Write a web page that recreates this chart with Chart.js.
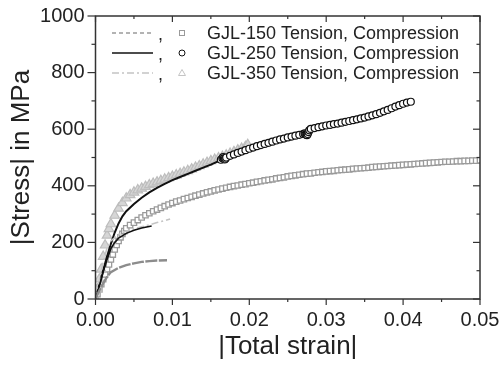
<!DOCTYPE html>
<html>
<head>
<meta charset="utf-8">
<script src="https://cdn.jsdelivr.net/npm/chart.js@4.4.1/dist/chart.umd.min.js"></script>
<style>
  html, body { margin: 0; padding: 0; background: #fff; }
  #wrap { width: 504px; height: 365px; }
</style>
</head>
<body>
<div id="wrap"><canvas id="stress-chart"></canvas></div>
<script>
"use strict";

// Series names as in the legend
const seriesNames = ["GJL-150 Tension, Compression", "GJL-250 Tension, Compression", "GJL-350 Tension, Compression"];

// Axis ticks
const strainTicks = [0, 0.01, 0.02, 0.03, 0.04, 0.05];
const stressTicks = [0, 200, 400, 600, 800, 1000];

// GJL-150 tension (dashed grey line)
const strain150t = [0, 0.0005, 0.001, 0.0015, 0.002, 0.003, 0.004, 0.005, 0.006, 0.007, 0.008, 0.0093];
const stress150t = [0, 30, 56, 78, 95, 110, 120, 126, 131, 134, 136, 137];

// GJL-150 compression (grey squares)
const strain150c = [0, 0.00025, 0.0005, 0.00075, 0.001, 0.00125, 0.0015, 0.00175, 0.002, 0.00225, 0.0025, 0.00275, 0.003, 0.00325, 0.0035, 0.00375, 0.004,
  0.0045, 0.005, 0.0055, 0.006, 0.0065, 0.007, 0.0075, 0.008, 0.0085, 0.009, 0.0095, 0.01,
  0.0105, 0.011, 0.0115, 0.012, 0.0125, 0.013, 0.0135, 0.014, 0.0145, 0.015,
  0.0155, 0.016, 0.0165, 0.017, 0.0175, 0.018, 0.0185, 0.019, 0.0195, 0.02,
  0.0205, 0.021, 0.0215, 0.022, 0.0225, 0.023, 0.0235, 0.024, 0.0245, 0.025,
  0.0255, 0.026, 0.0265, 0.027, 0.0275, 0.028, 0.0285, 0.029, 0.0295, 0.03,
  0.0305, 0.031, 0.0315, 0.032, 0.0325, 0.033, 0.0335, 0.034, 0.0345, 0.035,
  0.0355, 0.036, 0.0365, 0.037, 0.0375, 0.038, 0.0385, 0.039, 0.0395, 0.04,
  0.0405, 0.041, 0.0415, 0.042, 0.0425, 0.043, 0.0435, 0.044, 0.0445, 0.045,
  0.0455, 0.046, 0.0465, 0.047, 0.0475, 0.048, 0.0485, 0.049, 0.0495, 0.05];
const stress150c = [0, 17, 35, 52, 70, 87, 105, 122, 140, 157, 175, 191, 205, 218, 230, 240, 250,
  261, 270, 279, 288, 296, 303, 310, 316, 322, 328, 334, 339,
  344, 348, 353, 357, 361, 365, 369, 373, 377, 380,
  384, 387, 390, 393, 396, 399, 401, 404, 406, 409,
  411, 414, 416, 419, 421, 423, 426, 428, 430, 433,
  435, 437, 439, 441, 443, 444, 446, 448, 449, 451,
  452, 453, 455, 456, 457, 458, 460, 461, 462, 463,
  464, 466, 467, 468, 469, 470, 471, 472, 473, 474,
  475, 476, 477, 478, 479, 480, 481, 482, 483, 484,
  485, 485, 486, 487, 487, 488, 488, 489, 489, 490];

// GJL-250 tension (solid black line)
const strain250t = [0, 0.0005, 0.001, 0.0015, 0.002, 0.0025, 0.003, 0.004, 0.005, 0.006, 0.0073];
const stress250t = [0, 45, 95, 140, 178, 200, 215, 232, 243, 251, 258];

// GJL-250 compression (black circles)
const strain250c = [0, 0.0005, 0.001, 0.0015, 0.002, 0.0025, 0.003, 0.0035, 0.004, 0.005, 0.006, 0.007, 0.008, 0.009, 0.01, 0.011, 0.012, 0.013, 0.014, 0.015, 0.016,
  0.0163, 0.0165, 0.0166, 0.0167, 0.0168, 0.0169, 0.017,
  0.0175, 0.018, 0.0185, 0.019, 0.0195, 0.02, 0.0205, 0.021, 0.0215, 0.022, 0.0225, 0.023, 0.0235, 0.024, 0.0245, 0.025, 0.0255, 0.026, 0.0265, 0.027,
  0.0272, 0.0273, 0.0274, 0.0275, 0.0276, 0.0277, 0.0278, 0.028,
  0.0285, 0.029, 0.0295, 0.03, 0.0305, 0.031, 0.0315, 0.032, 0.0325, 0.033, 0.0335, 0.034, 0.0345, 0.035, 0.0355, 0.036, 0.0365, 0.037, 0.0375, 0.038, 0.0385, 0.039, 0.0395, 0.04, 0.0405, 0.041];
const stress250c = [0, 50, 102, 150, 195, 235, 267, 292, 310, 336, 358, 377, 393, 407, 420, 431, 442, 453, 464, 475, 487,
  492, 497, 501, 497, 493, 496, 500,
  506, 511, 516, 521, 526, 531, 535, 540, 544, 548, 552, 556, 560, 564, 567, 571, 574, 577, 580, 583,
  585, 582, 580, 579, 583, 590, 596, 601,
  604, 607, 610, 613, 615, 618, 620, 623, 626, 629, 632, 635, 638, 641, 645, 649, 653, 658, 663, 668, 674, 680, 685, 690, 694, 697];

// GJL-350 tension (light grey dash-dot line)
const strain350t = [0, 0.0005, 0.001, 0.0015, 0.002, 0.003, 0.004, 0.005, 0.006, 0.007, 0.008, 0.009, 0.0097];
const stress350t = [0, 65, 130, 180, 205, 228, 240, 248, 255, 262, 270, 277, 283];

// GJL-350 compression (light grey triangles)
const strain350c = [0, 0.00025, 0.0005, 0.00075, 0.001, 0.00125, 0.0015, 0.00175, 0.002,
  0.0025, 0.003, 0.0035, 0.004, 0.0045, 0.005, 0.0055, 0.006, 0.0065, 0.007, 0.0075, 0.008, 0.0085, 0.009, 0.0095, 0.01,
  0.0105, 0.011, 0.0115, 0.012, 0.0125, 0.013, 0.0135, 0.014, 0.0145, 0.015, 0.0155, 0.016, 0.0165, 0.017, 0.0175, 0.018, 0.0185, 0.019, 0.0195, 0.0198];
const stress350c = [0, 35, 70, 105, 150, 190, 225, 248, 265,
  295, 320, 340, 356, 368, 377, 385, 391, 397, 403, 408, 413, 418, 423, 428, 433,
  438, 443, 448, 453, 459, 465, 470, 476, 482, 488, 493, 498, 503, 508, 514, 520, 526, 532, 538, 545];

const FONT = "'Liberation Sans', Arial, Helvetica, sans-serif";
const INK = "#222";

function points(xs, ys) {
  return xs.map((x, i) => ({ x: x, y: ys[i] }));
}

// legend samples, one row per grade
const legendRows = [
  { dash: [4, 3], color: "#9a9a9a", marker: "rect", markerColor: "#9a9a9a" },
  { dash: [], color: "#111", marker: "circle", markerColor: "#111" },
  { dash: [7, 3, 2, 3], color: "#c4c4c4", marker: "triangle", markerColor: "#c4c4c4" },
];

const frameAndLegend = {
  id: "frameAndLegend",
  afterDraw(chart) {
    const ctx = chart.ctx;
    const a = chart.chartArea;
    const xs = chart.scales.x;
    const ys = chart.scales.y;
    const seg = (x1, y1, x2, y2) => { ctx.beginPath(); ctx.moveTo(x1, y1); ctx.lineTo(x2, y2); ctx.stroke(); };

    ctx.save();
    ctx.strokeStyle = "#333";
    ctx.lineWidth = 1.5;
    ctx.strokeRect(a.left, a.top, a.right - a.left, a.bottom - a.top);

    // ticks: outward on bottom/left, inward on top/right, minor halfway
    ctx.lineWidth = 1.2;
    for (let i = 0; i < strainTicks.length * 2 - 1; i++) {
      const px = xs.getPixelForValue(i * 0.005);
      const len = i % 2 === 0 ? 6 : 3;
      seg(px, a.bottom, px, a.bottom + len);
      seg(px, a.top, px, a.top + len);
    }
    for (let i = 0; i < stressTicks.length * 2 - 1; i++) {
      const py = ys.getPixelForValue(i * 100);
      const major = i % 2 === 0;
      seg(a.left - (major ? 8 : 4), py, a.left, py);
      seg(a.right - (major ? 7 : 3.5), py, a.right, py);
    }

    // legend
    ctx.font = "18px " + FONT;
    ctx.textBaseline = "middle";
    legendRows.forEach((row, i) => {
      const y = 33 + i * 20;
      ctx.strokeStyle = row.color;
      ctx.lineWidth = 1.5;
      ctx.setLineDash(row.dash);
      seg(112, y, 153, y);
      ctx.setLineDash([]);
      ctx.fillStyle = INK;
      ctx.fillText(",", 158, y + 2);
      ctx.strokeStyle = row.markerColor;
      ctx.lineWidth = 1;
      const mx = 182;
      if (row.marker === "rect") {
        ctx.strokeRect(mx - 2.5, y - 2.5, 5, 5);
      } else if (row.marker === "circle") {
        ctx.beginPath(); ctx.arc(mx, y, 3, 0, Math.PI * 2); ctx.stroke();
      } else {
        ctx.beginPath(); ctx.moveTo(mx, y - 3.5); ctx.lineTo(mx + 3.5, y + 2.5); ctx.lineTo(mx - 3.5, y + 2.5); ctx.closePath(); ctx.stroke();
      }
      ctx.fillStyle = INK;
      ctx.fillText(seriesNames[i], 207, y + 1);
    });
    ctx.restore();
  },
};

const chartData = {
  datasets: [
    {
      label: "GJL-150 Tension",
      data: points(strain150t, stress150t),
      showLine: true,
      borderColor: "#8c8c8c",
      borderWidth: 2.4,
      borderDash: [12, 1.5],
      pointRadius: 0,
      order: 1,
    },
    {
      label: "GJL-250 Tension",
      data: points(strain250t, stress250t),
      showLine: true,
      borderColor: "#111",
      borderWidth: 1.6,
      pointRadius: 0,
      order: 1,
    },
    {
      label: "GJL-350 Tension",
      data: points(strain350t, stress350t),
      showLine: true,
      borderColor: "#c4c4c4",
      borderWidth: 1.6,
      borderDash: [7, 3, 2, 3],
      pointRadius: 0,
      order: 1,
    },
    {
      label: "GJL-250 Compression",
      data: points(strain250c, stress250c),
      showLine: true,
      borderColor: "#111",
      borderWidth: 2,
      pointStyle: "circle",
      pointRadius: (c) => (c.raw && c.raw.x < 0.0162 ? 0 : 3.5),
      pointBackgroundColor: "#fff",
      pointBorderColor: "#111",
      pointBorderWidth: 1.2,
      order: 2,
    },
    {
      label: "GJL-350 Compression",
      data: points(strain350c, stress350c),
      showLine: false,
      pointStyle: "triangle",
      pointRadius: 5.5,
      pointBackgroundColor: "#d6d6d6",
      pointBorderColor: "#bdbdbd",
      pointBorderWidth: 1.2,
      order: 3,
    },
    {
      label: "GJL-150 Compression",
      data: points(strain150c, stress150c),
      showLine: false,
      pointStyle: "rect",
      pointRadius: 3.8,
      pointBackgroundColor: "#fff",
      pointBorderColor: "#9a9a9a",
      pointBorderWidth: 1.3,
      order: 4,
    },
  ],
};

const ctx = document.getElementById("stress-chart").getContext("2d");
const stressChart = new Chart(ctx, {
  type: "scatter",
  data: chartData,
  options: {
    responsive: true,
    maintainAspectRatio: false,
    animation: false,
    devicePixelRatio: 1,
    layout: { padding: { top: 16, right: 24, left: 0, bottom: 0 } },
    plugins: { legend: { display: false }, tooltip: { enabled: false } },
    scales: {
      x: {
        type: "linear",
        min: 0,
        max: 0.05,
        afterFit: (s) => { s.height = 66; },
        afterBuildTicks: (s) => { s.ticks = strainTicks.map((v) => ({ value: v })); },
        border: { display: false },
        grid: { drawOnChartArea: false, drawTicks: true, tickLength: 6, color: "rgba(0,0,0,0)" },
        ticks: {
          padding: 3,
          maxRotation: 0,
          color: INK,
          font: { family: FONT, size: 20 },
          callback: (v) => v.toFixed(2),
        },
        title: {
          display: true,
          text: "|Total strain|",
          color: INK,
          font: { family: FONT, size: 26, lineHeight: 1 },
          padding: { top: 0, bottom: 5 },
        },
      },
      y: {
        type: "linear",
        min: 0,
        max: 1000,
        afterFit: (s) => { s.width = 95.5; },
        afterBuildTicks: (s) => { s.ticks = stressTicks.map((v) => ({ value: v })); },
        border: { display: false },
        grid: { drawOnChartArea: false, drawTicks: true, tickLength: 8, color: "rgba(0,0,0,0)" },
        ticks: {
          padding: 3,
          color: INK,
          font: { family: FONT, size: 20 },
          callback: (v) => String(v),
        },
        title: {
          display: true,
          text: "|Stress| in MPa",
          color: INK,
          font: { family: FONT, size: 26, lineHeight: 1 },
          padding: { top: 9, bottom: 0 },
        },
      },
    },
  },
  plugins: [frameAndLegend],
});
</script>
</body>
</html>
